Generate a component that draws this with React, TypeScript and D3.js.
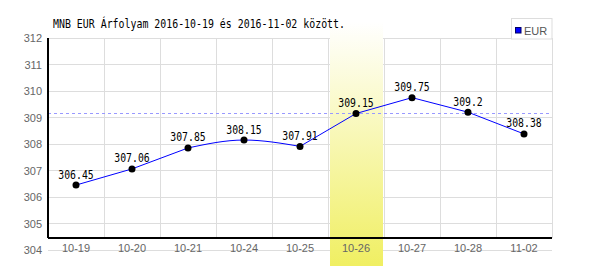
import React from "react";
import * as d3 from "d3";

const categories = ["10-19", "10-20", "10-21", "10-24", "10-25", "10-26", "10-27", "10-28", "11-02"];
const values = [306.45, 307.06, 307.85, 308.15, 307.91, 309.15, 309.75, 309.2, 308.38];
const labels = ["306.45", "307.06", "307.85", "308.15", "307.91", "309.15", "309.75", "309.2", "308.38"];
const yTicks = [304, 305, 306, 307, 308, 309, 310, 311, 312];
const highlightCategory = "10-26";
const referenceValue = 309.15;
const title = "MNB EUR Árfolyam 2016-10-19 és 2016-11-02 között.";
const seriesName = "EUR";

const W = 600;
const H = 270;
const left = 48;
const right = 552;
const top = 38;
const bottom = 250;

export default function App() {
  const x = d3.scaleBand<string>().domain(categories).range([left, right]).paddingInner(0).paddingOuter(0);
  const y = d3.scaleLinear().domain([304, 312]).range([bottom, top]);
  const bw = x.bandwidth();
  const cx = (c: string) => (x(c) as number) + bw / 2;
  const axisY = y(304) - 12;

  const pts: [number, number][] = categories.map((c, i) => [cx(c), y(values[i])]);
  const lin = d3.line().curve(d3.curveLinear);
  const mono = d3.line().curve(d3.curveMonotoneX);
  const pathA = lin(pts.slice(0, 3)) || "";
  const pathB = mono(pts.slice(2, 5)) || "";
  const pathC = lin(pts.slice(4)) || "";

  const hx = x(highlightCategory) as number;

  return (
    <svg width={W} height={H} style={{ position: "absolute", left: 0, top: 0, background: "#fff" }}>
      <defs>
        <linearGradient id="hl" x1="0" y1="0" x2="0" y2="1">
          <stop offset="0" stopColor="#ffffff" />
          <stop offset="1" stopColor="#f0ef62" />
        </linearGradient>
      </defs>
      <rect x={0} y={0} width={W} height={H} fill="#fff" />
      {yTicks.map((t) => (
        <line key={"h" + t} x1={left} x2={right} y1={y(t)} y2={y(t)} stroke="#dddddd" strokeWidth={1} shapeRendering="crispEdges" />
      ))}
      {categories.map((c) => (
        <line key={"v" + c} x1={(x(c) as number) + bw} x2={(x(c) as number) + bw} y1={top} y2={axisY} stroke="#dddddd" strokeWidth={1} shapeRendering="crispEdges" />
      ))}
      <rect x={hx + 2} y={22} width={bw - 3} height={266 - 22} fill="url(#hl)" />
      <line x1={left} x2={right} y1={y(referenceValue)} y2={y(referenceValue)} stroke="#9999ff" strokeWidth={1} strokeDasharray="3,3" shapeRendering="crispEdges" />
      <line x1={left} x2={left} y1={top} y2={axisY} stroke="#000" strokeWidth={1.5} shapeRendering="crispEdges" />
      <line x1={left} x2={right} y1={axisY} y2={axisY} stroke="#000" strokeWidth={1.5} shapeRendering="crispEdges" />
      {yTicks.map((t) => (
        <text key={"yl" + t} x={42} y={y(t) + 4} textAnchor="end" fontFamily="Liberation Sans, Arial, sans-serif" fontSize={11} fill="#666">
          {t}
        </text>
      ))}
      {categories.map((c) => (
        <text key={"xl" + c} x={cx(c)} y={252} textAnchor="middle" fontFamily="Liberation Sans, Arial, sans-serif" fontSize={11} fill="#666">
          {c}
        </text>
      ))}
      <path d={pathA} fill="none" stroke="#0000ff" strokeWidth={1} />
      <path d={pathB} fill="none" stroke="#0000ff" strokeWidth={1} />
      <path d={pathC} fill="none" stroke="#0000ff" strokeWidth={1} />
      {pts.map((p, i) => (
        <circle key={"p" + i} cx={p[0]} cy={p[1]} r={3.5} fill="#000" />
      ))}
      {pts.map((p, i) => (
        <text key={"vl" + i} x={p[0]} y={p[1] - 6.5} textAnchor="middle" fontFamily="DejaVu Sans Mono, monospace" fontSize={11.5} fill="#000" textLength={labels[i].length * 5.9} lengthAdjust="spacingAndGlyphs">
          {labels[i]}
        </text>
      ))}
      <text x={53} y={28} fontFamily="DejaVu Sans Mono, monospace" fontSize={11.5} fill="#000" textLength={292} lengthAdjust="spacingAndGlyphs">
        {title}
      </text>
      <rect x={511.5} y={18.5} width={40.5} height={20.5} fill="#fff" stroke="#dddddd" strokeWidth={1} />
      <rect x={515.5} y={27.5} width={5.5} height={5.5} fill="#0000ff" stroke="#000066" strokeWidth={1} />
      <text x={524} y={35} fontFamily="Liberation Sans, Arial, sans-serif" fontSize={11} fill="#555">
        {seriesName}
      </text>
    </svg>
  );
}
